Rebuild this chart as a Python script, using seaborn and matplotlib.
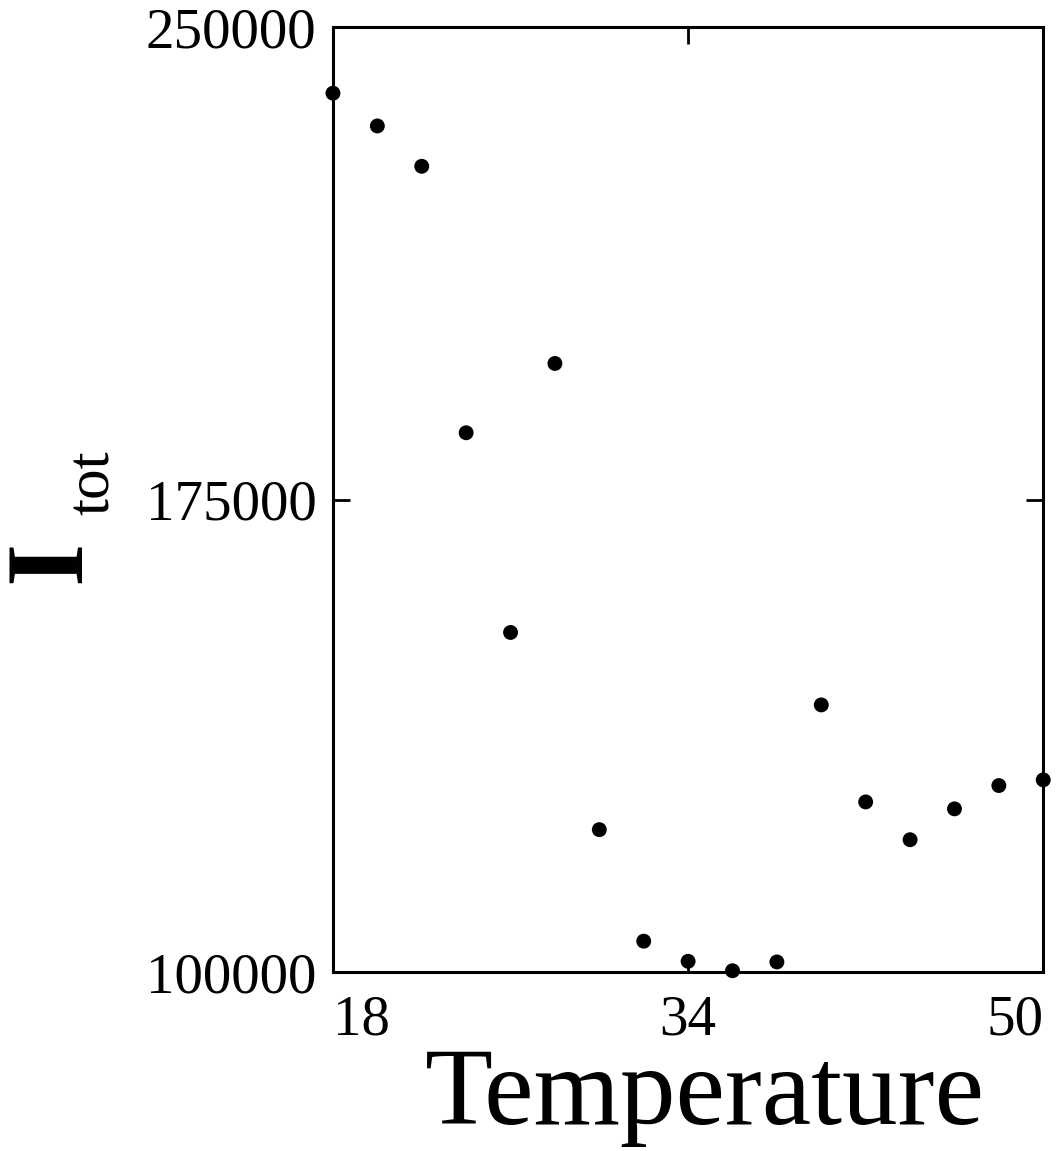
import matplotlib
matplotlib.use("Agg")
import matplotlib.pyplot as plt
import seaborn as sns
import pandas as pd

temperature = [18, 20, 22, 24, 26, 28, 30, 32, 34, 36, 38, 40, 42, 44, 46, 48, 50]
i_tot = [239500, 234300, 227900, 185600, 153900, 196600, 122600, 104900,
         101700, 100200, 101600, 142400, 127000, 121000, 125900, 129600, 130500]
x_ticks = [18, 34, 50]
y_ticks = [100000, 175000, 250000]
y_tick_labels = ["100000", "175000", "250000"]

df = pd.DataFrame({"Temperature": temperature, "Itot": i_tot})

sns.set_theme(style="ticks")
plt.rcParams["font.family"] = ["Liberation Serif", "DejaVu Serif"]
plt.rcParams["text.color"] = "black"
plt.rcParams["axes.labelcolor"] = "black"

fig = plt.figure(figsize=(10.57, 11.51), dpi=100)
ax = fig.add_axes([0.315, 0.1555, 0.672, 0.821])

sns.scatterplot(data=df, x="Temperature", y="Itot", ax=ax, color="black",
                s=115, edgecolor="none", clip_on=False, legend=False)

ax.set_xlim(18, 50)
ax.set_ylim(100000, 250000)
ax.set_xticks(x_ticks)
ax.set_xticklabels([str(t) for t in x_ticks])
ax.set_yticks(y_ticks)
ax.set_yticklabels(y_tick_labels)

for s in ax.spines.values():
    s.set_linewidth(2.2)
    s.set_color("black")
    s.set_visible(True)

ax.tick_params(axis="both", direction="in", length=12, width=2, color="black",
               labelsize=41, labelcolor="black")
ax.tick_params(axis="x", top=True, bottom=True, pad=16)
ax.tick_params(axis="y", left=True, right=True, pad=12)

xt = ax.get_xticklabels()
xt[0].set_ha("left")
xt[-1].set_ha("right")

ax.set_xlabel("Temperature", fontsize=80, color="black")
ax.xaxis.set_label_coords(0.524, -0.161)
ax.xaxis.label.set_va("baseline")
ax.set_ylabel("")

fig.text(0.049, 0.512, "I", rotation=90, fontsize=80, fontweight="bold",
         ha="center", va="center", color="black")
fig.text(0.089, 0.581, "tot", rotation=90, fontsize=44,
         ha="center", va="center", color="black")

fig.savefig("out.png", dpi=100, facecolor="white")
